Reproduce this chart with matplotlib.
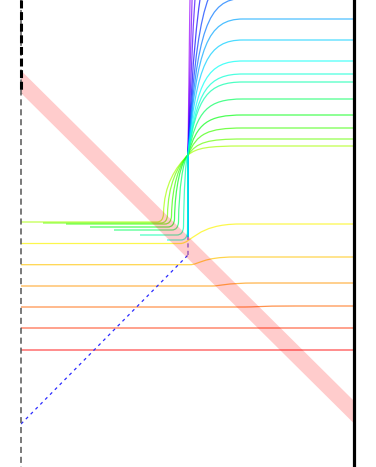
import matplotlib
matplotlib.use("Agg")
import matplotlib.pyplot as plt
from matplotlib.path import Path
from matplotlib.patches import PathPatch

# coordinates (x to the right, y downward)

# trajectories coming in from the left, funnelling through the knot
left_x = [21, 43, 66, 90, 114, 140, 167]
left_y = [222, 223, 224, 227, 230, 235, 240]
knee_x = [163, 167, 171, 174, 178, 183, 187]
left_level = [146, 139, 128, 115, 99, 82, 74]
left_hue = [0.23, 0.27, 0.30, 0.35, 0.40, 0.45, 0.48]

# trajectories climbing straight up the column
col_start = 237
col_level = [61, 40, 19, -1.5, -30, -78, -175, -350, -775]
col_hue = [0.50, 0.54, 0.57, 0.60, 0.64, 0.68, 0.72, 0.75, 0.78]

# nearly flat lines underneath, kicked up where they cross the band
flat_y0 = [243.5, 264.7, 286, 307, 328, 350]
flat_y1 = [224, 257, 283, 306, 328, 350]
kick_x = [180, 190, 212, 245, 267, 289]
kick_w = [60, 45, 45, 50, 50, 50]
flat_hue = [0.165, 0.13, 0.10, 0.07, 0.035, 0.0]

knot = (188, 155)
L = 11          # bend length of the upper branches
x_left, x_right = 21, 354

band_x = [-10, 380]
band_y = [51, 438]
diag_x = [21, 188, 188]
diag_y = [424, 255, 237]

fig = plt.figure(figsize=(3.76, 4.67), dpi=100)
ax = fig.add_axes([x_left / 376, 0, (x_right - x_left) / 376, 1])
ax.set_xlim(x_left, x_right)
ax.set_ylim(467, 0)
ax.axis("off")


def upper(a):
    x0, y0 = knot
    d = y0 - a
    verts = [(x0 + 0.8 * L, a + 0.2 * d), (x0 + 1.8 * L, a), (x0 + 5 * L, a), (x_right, a)]
    return verts, [Path.CURVE4] * 3 + [Path.LINETO]


def draw(verts, codes, hue, alpha=0.7):
    p = PathPatch(Path(verts, codes), fill=False, edgecolor=plt.cm.hsv(hue),
                  lw=0.9, alpha=alpha, zorder=2)
    ax.add_patch(p)


for a, h in zip(col_level[::-1], col_hue[::-1]):
    v, c = upper(a)
    draw([(knot[0], col_start), knot] + v, [Path.MOVETO, Path.LINETO] + c, h)

for xs, ys, xk, a, h in zip(left_x, left_y, knee_x, left_level, left_hue):
    v, c = upper(a)
    kx, ky = knot
    top = ys - 8
    k = 0.5 * (kx - xk)
    low = [(xs, ys), (xk - 6, ys),
           (xk, ys), (xk + 0.5, top),
           (xk + 1, top - 0.5 * (top - ky)), (kx - k, ky + k), knot]
    codes = [Path.MOVETO, Path.LINETO, Path.CURVE3, Path.CURVE3] + [Path.CURVE4] * 3
    draw(low + v, codes + c, h)

for y0, y1, xk, w, h in zip(flat_y0, flat_y1, kick_x, kick_w, flat_hue):
    v = [(x_left, y0), (xk, y0), (xk + 0.2 * w, y0), (xk + 0.27 * w, y1),
         (xk + w, y1), (x_right, y1)]
    draw(v, [Path.MOVETO, Path.LINETO] + [Path.CURVE4] * 3 + [Path.LINETO], h)

# dashed guide from the bottom left up to the column
ax.plot(diag_x[:2], diag_y[:2], color="#2b2bff", lw=0.9, ls=(0, (2.5, 3)), zorder=3)
ax.plot(diag_x[1:], diag_y[1:], color="#8f80ea", lw=1.2, ls=(0, (2.5, 2)), zorder=3)

# wide translucent band
ax.plot(band_x, band_y, color="red", alpha=0.2, lw=11.5,
        solid_capstyle="butt", zorder=4)

# frame lines
ax.plot([x_left, x_left], [0, 467], color="#555555", lw=1.1,
        ls=(0, (4, 2.5)), clip_on=False, zorder=5)
ax.plot([x_left, x_left], [0, 93], color="black", lw=2.2,
        ls=(0, (2.6, 1.2)), clip_on=False, zorder=6)
ax.plot([x_right, x_right], [0, 467], color="black", lw=2.3,
        clip_on=False, zorder=6)

fig.savefig("out.png", dpi=100)
